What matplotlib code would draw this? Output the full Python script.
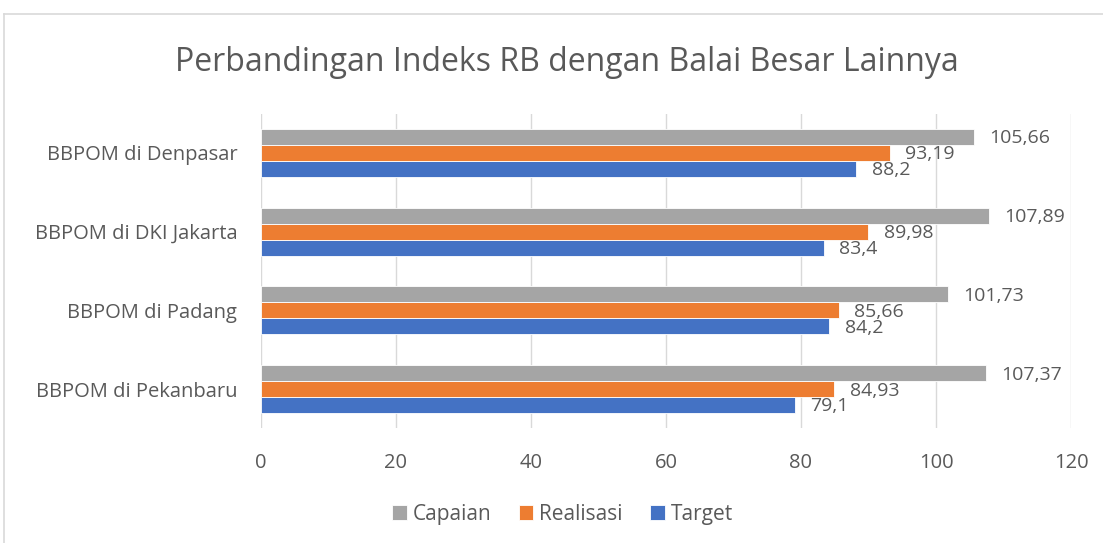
import numpy as np
import matplotlib.pyplot as plt
from matplotlib.lines import Line2D

# Data (bottom to top, as drawn)
categories = ['BBPOM di Pekanbaru', 'BBPOM di Padang', 'BBPOM di DKI Jakarta', 'BBPOM di Denpasar']
target = [79.1, 84.2, 83.4, 88.2]
realisasi = [84.93, 85.66, 89.98, 93.19]
capaian = [107.37, 101.73, 107.89, 105.66]

series = [('Target', target, '#4472C4'),
          ('Realisasi', realisasi, '#ED7D31'),
          ('Capaian', capaian, '#A5A5A5')]

plt.rcParams['font.family'] = ['Open Sans', 'DejaVu Sans']
TXT = '#595959'

fig = plt.figure(figsize=(11.03, 5.43), dpi=100)
ax = fig.add_axes([0.2366, 0.2109, 0.7344, 0.580])

# chart frame (top and left edges visible)
fig.add_artist(Line2D([4 / 1103, 4 / 1103], [0, 1 - 14 / 543], color='#D9D9D9', lw=1.2))
fig.add_artist(Line2D([4 / 1103, 1], [1 - 14 / 543, 1 - 14 / 543], color='#D9D9D9', lw=1.2))

y = np.arange(len(categories))
h = 0.203
for i, (name, vals, col) in enumerate(series):
    pos = y + (i - 1) * h
    ax.barh(pos, vals, height=h, color=col, edgecolor='white', linewidth=0.6, label=name, zorder=3)
    for p, v in zip(pos, vals):
        lab = f'{v:g}'.replace('.', ',')
        ax.annotate(lab, (v, p), xytext=(11, -1), textcoords='offset points',
                    ha='left', va='center', fontsize=14, color=TXT)

ax.set_xlim(0, 120)
ax.set_ylim(-0.5, len(categories) - 0.5)
ax.set_xticks(range(0, 121, 20))
ax.set_yticks(y)
ax.set_yticklabels(categories)
ax.tick_params(length=0, labelsize=14.5, colors=TXT)
ax.tick_params(axis='x', pad=18)
ax.tick_params(axis='y', pad=17)
ax.grid(axis='x', color='#D9D9D9', lw=1, zorder=0)
for s in ax.spines.values():
    s.set_visible(False)

fig.text(0.514, 0.884, 'Perbandingan Indeks RB dengan Balai Besar Lainnya',
         ha='center', va='center', fontsize=23, color=TXT)

handles, labels = ax.get_legend_handles_labels()
leg = fig.legend(handles[::-1], labels[::-1], loc='center', bbox_to_anchor=(0.51, 0.053),
                 ncol=3, frameon=False, fontsize=15, handlelength=0.7, handleheight=0.7,
                 handletextpad=0.3, columnspacing=1.3, labelcolor=TXT)

fig.savefig('out.png', dpi=100)
